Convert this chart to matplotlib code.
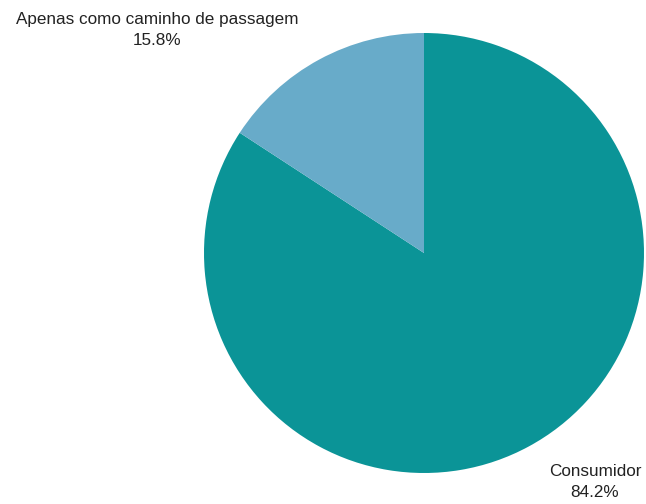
import matplotlib
matplotlib.use("Agg")
import matplotlib.pyplot as plt

categories = ["Consumidor", "Apenas como caminho de passagem"]
shares = [84.2, 15.8]
colors = ["#0b9497", "#68abc9"]

W, H = 646, 504
fig = plt.figure(figsize=(W / 100, H / 100), dpi=100)
ax = fig.add_axes([0, 0, 1, 1])
ax.set_xlim(0, W)
ax.set_ylim(0, H)
ax.set_aspect("equal")
ax.axis("off")

cx, cy, r = 424, H - 253, 220
wedges, _ = ax.pie(shares, colors=colors, startangle=90, counterclock=False,
                   center=(cx, cy), radius=r, frame=True)
ax.set_xlim(0, W)
ax.set_ylim(0, H)
ax.axis("off")

font = dict(family=["Liberation Sans", "DejaVu Sans"], fontsize=12.3,
            color="#222222", ha="center", va="center", linespacing=1.45)
ax.text(157, H - 30, f"{categories[1]}\n{shares[1]:.1f}%", **font)
ax.text(595, H - 482, f"{categories[0]}\n{shares[0]:.1f}%", **font)

fig.savefig("out.png", dpi=100, facecolor="white")
